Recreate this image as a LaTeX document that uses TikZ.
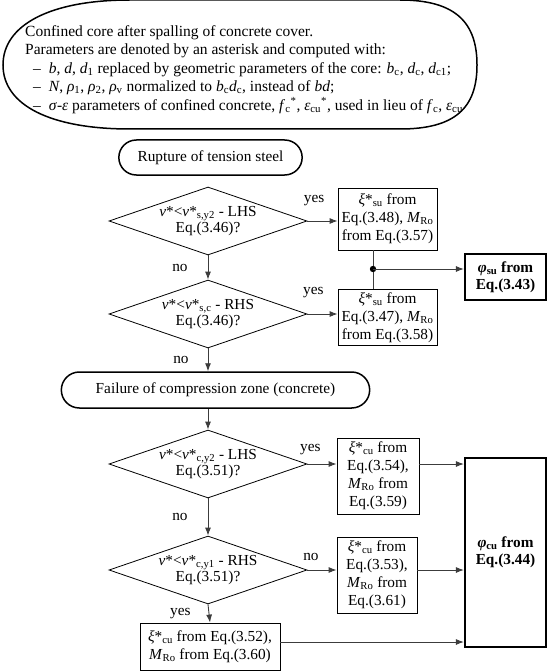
\documentclass[tikz,border=0pt]{standalone}
\usepackage{fontspec}
\setmainfont{Liberation Serif}
\usetikzlibrary{shapes.geometric, shapes.misc, arrows.meta, positioning, calc}
\definecolor{linegray}{RGB}{60,60,60}
\newcommand{\xisu}{\textit{ξ}*\textsubscript{su}}
\newcommand{\xicu}{\textit{ξ}*\textsubscript{cu}}
\newcommand{\mro}{\textit{M}\textsubscript{Ro}}
\newcommand{\nuless}[1]{\textit{ν}*<\textit{ν}*\textsubscript{#1}}
\newcommand{\phib}{\textbf{\textit{φ}}}
\newcommand{\itemdash}{\hspace*{8pt}–\hspace{8pt}}
\tikzset{
  decnode/.style={diamond, draw, line width=0.8pt, aspect=2.9, inner sep=0pt, minimum width=198pt, minimum height=68pt, align=center, font=\fontsize{15.3}{16.5}\selectfont},
  procnode/.style={rectangle, draw, line width=0.8pt, inner sep=1pt, align=center, font=\fontsize{15.3}{18}\selectfont},
  termnode/.style={rounded rectangle, draw, line width=1.5pt, minimum height=35pt, font=\fontsize{15.3}{18}\selectfont},
  resnode/.style={rectangle, draw, line width=2.2pt, inner sep=1pt, align=center, font=\bfseries\fontsize{15.3}{17}\selectfont},
  edgelabel/.style={font=\fontsize{15.3}{18}\selectfont, inner sep=0pt},
  flow/.style={draw=linegray, line width=0.9pt, -{Latex[length=8pt, width=6pt]}},
}

\begin{document}
\begin{tikzpicture}[x=1pt, y=-1pt]
\useasboundingbox (0,0) rectangle (548,671);
% assumptions for the confined core
\draw[line width=1.5pt] (130,0) -- (400,0) .. controls (455,0) and (477,22) .. (477,65)
  .. controls (477,108) and (455,129) .. (400,129) -- (130,129)
  .. controls (50,129) and (3,105) .. (3,65) .. controls (3,25) and (50,0) .. (130,0) -- cycle;
\node[anchor=north west, align=left, inner sep=0pt, font=\fontsize{15.5}{18.5}\selectfont] (intro) at (25,25)
  {Confined core after spalling of concrete cover.\\
   Parameters are denoted by an asterisk and computed with:\\
   \itemdash\textit{b}, \textit{d}, \textit{d}\textsubscript{1} replaced by geometric parameters of the core: \textit{b}\textsubscript{c}, \textit{d}\textsubscript{c}, \textit{d}\textsubscript{c1};\\
   \itemdash\textit{N}, \textit{ρ}\textsubscript{1}, \textit{ρ}\textsubscript{2}, \textit{ρ}\textsubscript{v} normalized to \textit{b}\textsubscript{c}\textit{d}\textsubscript{c}, instead of \textit{bd};\\
   \itemdash\textit{σ}-\textit{ε} parameters of confined concrete, \textit{f}\textsubscript{c}\textsuperscript{*}, \textit{ε}\textsubscript{cu}\textsuperscript{*}, used in lieu of \textit{f}\textsubscript{c}, \textit{ε}\textsubscript{cu}};

% rupture of tension steel
\node[termnode, minimum width=190pt] (rupture) at (210.5,157.5) {Rupture of tension steel};
\node[decnode] (ds1) at (208,221) {\nuless{s,y2} - LHS\\Eq.(3.46)?};
\node[decnode] (ds2) at (208,314) {\nuless{s,c} - RHS\\Eq.(3.46)?};
\node[procnode, minimum width=99pt, minimum height=62pt] (bs1) at (387.5,219) {\xisu{} from\\Eq.(3.48), \mro\\from Eq.(3.57)};
\node[procnode, minimum width=99pt, minimum height=56pt] (bs2) at (387.5,317.5) {\xisu{} from\\Eq.(3.47), \mro\\from Eq.(3.58)};
\node[resnode, minimum width=81pt, minimum height=46pt] (phisu) at (505.5,277) {\phib\textsubscript{su} from\\Eq.(3.43)};
\coordinate (jn) at (373,269);

% failure of compression zone
\node[termnode, minimum width=315pt, minimum height=36pt] (failure) at (215.5,390) {Failure of compression zone (concrete)};
\node[decnode] (ds3) at (208,464) {\nuless{c,y2} - LHS\\Eq.(3.51)?};
\node[decnode] (ds4) at (208,570) {\nuless{c,y1} - RHS\\Eq.(3.51)?};
\node[procnode, minimum width=82pt, minimum height=76pt] (bs3) at (378,476) {\xicu{} from\\Eq.(3.54),\\\mro{} from\\Eq.(3.59)};
\node[procnode, minimum width=80pt, minimum height=76pt] (bs4) at (377,575) {\xicu{} from\\Eq.(3.53),\\\mro{} from\\Eq.(3.61)};
\node[procnode, minimum width=140pt, minimum height=47pt] (bs5) at (210,646.5) {\xicu{} from Eq.(3.52),\\\mro{} from Eq.(3.60)};
\node[resnode, minimum width=81pt, minimum height=189pt] (phicu) at (505.5,552.5) {\phib\textsubscript{cu} from\\Eq.(3.44)};

% connectors
\draw[flow] (ds1.east) -- (ds1.east -| bs1.west) node[edgelabel, pos=0.22, above=15pt] {yes};
\draw[flow] (ds1.south) -- (ds2.north) node[edgelabel, midway, left=20pt] {no};
\draw[flow] (ds2.east) -- (ds2.east -| bs2.west) node[edgelabel, pos=0.2, above=16pt] {yes};
\draw[linegray, line width=0.9pt] (bs1.south -| jn) -- (bs2.north -| jn);
\fill (jn) circle (3.2pt);
\draw[flow] (jn) -- (jn -| phisu.west);
\draw[flow] (ds2.south) -- (ds2.south |- failure.north) node[edgelabel, midway, left=19pt] {no};
\draw[flow] (ds3.north |- failure.south) -- (ds3.north);
\draw[flow] (ds3.east) -- (ds3.east -| bs3.west) node[edgelabel, pos=0.1, above=9pt] {yes};
\draw[flow] (bs3.east |- ds3.east) -- (ds3.east -| phicu.west);
\draw[flow] (ds3.south) -- (ds4.north) node[edgelabel, midway, left=20pt] {no};
\draw[flow] (ds4.east) -- (ds4.east -| bs4.west) node[edgelabel, pos=0.12, above=9pt] {no};
\draw[flow] (bs4.east |- ds4.east) -- (ds4.east -| phicu.west);
\draw[flow] (ds4.south) -- (bs5.north) node[edgelabel, midway, left=18pt] {yes};
\draw[flow] (bs5.east |- 0,642) -- (phicu.west |- 0,642);
\end{tikzpicture}
\end{document}
